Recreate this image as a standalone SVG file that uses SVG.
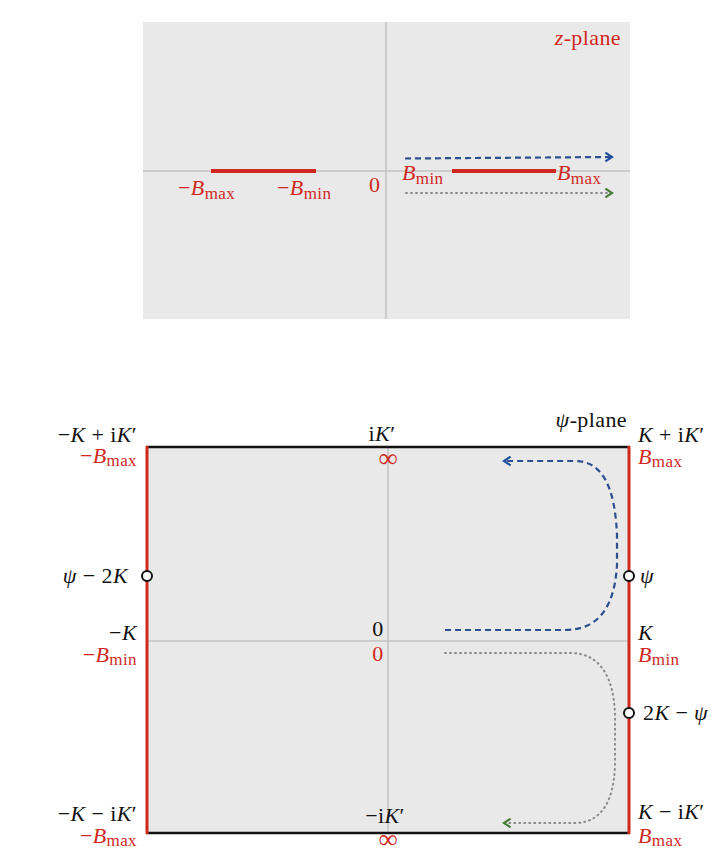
<svg xmlns="http://www.w3.org/2000/svg" width="727" height="854" viewBox="0 0 727 854">
<style>
text{font-family:"Liberation Serif","DejaVu Serif",serif;font-size:22px;letter-spacing:0.4px}
.r{fill:#d0281e}
.k{fill:#111}
.i{font-style:italic}
.sub{font-size:17px}
.inf{font-size:27px;letter-spacing:0}
.bg{fill:#e9e9e9}
.ax{stroke:#c2c2c2;stroke-width:1.5;fill:none}
.cut{stroke:#d0281e;stroke-width:4;fill:none}
.edge{stroke:#d0281e;stroke-width:3;fill:none}
.bk{stroke:#111;stroke-width:2.5;fill:none}
.blue{stroke:#2b4f8f;stroke-width:2.2;stroke-dasharray:6 4;fill:none}
.dot{stroke:#8a8a8a;stroke-width:2;stroke-dasharray:1 4;stroke-linecap:round;fill:none}
.pt{fill:#fff;stroke:#111;stroke-width:2}
</style>
<defs>
<marker id="ab" viewBox="0 0 10 10" refX="8" refY="5" markerWidth="11" markerHeight="11" markerUnits="userSpaceOnUse" orient="auto"><path d="M2,1 L8,5 L2,9" fill="none" stroke="#1f4f9a" stroke-width="2"/></marker>
<marker id="ag" viewBox="0 0 10 10" refX="8" refY="5" markerWidth="11" markerHeight="11" markerUnits="userSpaceOnUse" orient="auto"><path d="M2,1 L8,5 L2,9" fill="none" stroke="#4a7f3a" stroke-width="2"/></marker>
</defs>

<g id="z-plane">
<rect class="bg" x="143" y="22" width="487" height="297"/>
<line class="ax" x1="143" y1="171" x2="630" y2="171"/>
<line class="ax" x1="386" y1="22" x2="386" y2="319"/>
<line class="cut" x1="211" y1="171" x2="316" y2="171"/>
<line class="cut" x1="452" y1="171" x2="556" y2="171"/>
<text class="r" x="621" y="45" text-anchor="end"><tspan class="i">z</tspan>-plane</text>
<text class="r" x="178" y="195">−<tspan class="i">B</tspan><tspan class="sub" dy="4">max</tspan></text>
<text class="r" x="277" y="195">−<tspan class="i">B</tspan><tspan class="sub" dy="4">min</tspan></text>
<text class="r" x="369" y="192">0</text>
<text class="r" x="402" y="180"><tspan class="i">B</tspan><tspan class="sub" dy="4">min</tspan></text>
<text class="r" x="557" y="180"><tspan class="i">B</tspan><tspan class="sub" dy="4">max</tspan></text>
</g>

<g id="psi-plane">
<rect class="bg" x="147" y="447" width="482" height="386"/>
<line class="ax" x1="147" y1="641" x2="629" y2="641"/>
<line class="ax" x1="388" y1="447" x2="388" y2="833"/>
<line class="bk" x1="146" y1="447" x2="630" y2="447"/>
<line class="bk" x1="146" y1="833" x2="630" y2="833"/>
<line class="edge" x1="147" y1="446" x2="147" y2="834"/>
<line class="edge" x1="629" y1="446" x2="629" y2="834"/>
<text x="627" y="427" text-anchor="end" class="k"><tspan class="i">ψ</tspan>-plane</text>
</g>

<g id="corner-tl">
<text class="k" x="137" y="442" text-anchor="end">−<tspan class="i">K</tspan> + i<tspan class="i">K</tspan>′</text>
<text class="r" x="137" y="463" text-anchor="end">−<tspan class="i">B</tspan><tspan class="sub" dy="3">max</tspan></text>
</g>
<g id="corner-tr">
<text class="k" x="638" y="442"><tspan class="i">K</tspan> + i<tspan class="i">K</tspan>′</text>
<text class="r" x="638" y="464"><tspan class="i">B</tspan><tspan class="sub" dy="3">max</tspan></text>
</g>
<g id="mid-l">
<text class="k" x="137" y="640" text-anchor="end">−<tspan class="i">K</tspan></text>
<text class="r" x="137" y="662" text-anchor="end">−<tspan class="i">B</tspan><tspan class="sub" dy="3">min</tspan></text>
</g>
<g id="mid-r">
<text class="k" x="638" y="640"><tspan class="i">K</tspan></text>
<text class="r" x="638" y="662"><tspan class="i">B</tspan><tspan class="sub" dy="3">min</tspan></text>
</g>
<g id="corner-bl">
<text class="k" x="137" y="821" text-anchor="end">−<tspan class="i">K</tspan> − i<tspan class="i">K</tspan>′</text>
<text class="r" x="137" y="843" text-anchor="end">−<tspan class="i">B</tspan><tspan class="sub" dy="3">max</tspan></text>
</g>
<g id="corner-br">
<text class="k" x="638" y="819"><tspan class="i">K</tspan> − i<tspan class="i">K</tspan>′</text>
<text class="r" x="638" y="843"><tspan class="i">B</tspan><tspan class="sub" dy="3">max</tspan></text>
</g>
<g id="top-mid">
<text class="k" x="382" y="441" text-anchor="middle">i<tspan class="i">K</tspan>′</text>
<text class="r inf" x="388" y="467" text-anchor="middle">∞</text>
</g>
<g id="origin">
<text class="k" x="378" y="636" text-anchor="middle">0</text>
<text class="r" x="378" y="661" text-anchor="middle">0</text>
</g>
<g id="bottom-mid">
<text class="k" x="385" y="823" text-anchor="middle">−i<tspan class="i">K</tspan>′</text>
<text class="r inf" x="388" y="848" text-anchor="middle">∞</text>
</g>
<g id="pt-left">
<circle class="pt" cx="147" cy="576" r="5"/>
<text class="k" x="128" y="583" text-anchor="end"><tspan class="i">ψ</tspan> − 2<tspan class="i">K</tspan></text>
</g>
<g id="pt-right">
<circle class="pt" cx="629" cy="576" r="5"/>
<text class="k" x="640" y="583"><tspan class="i">ψ</tspan></text>
</g>
<g id="pt-right2">
<circle class="pt" cx="629" cy="713" r="5"/>
<text class="k" x="643" y="720">2<tspan class="i">K</tspan> − <tspan class="i">ψ</tspan></text>
</g>

<g id="connectors">
<path class="blue" d="M405,158.5 L612,157" marker-end="url(#ab)"/>
<path class="dot" d="M406,193 L612,193" marker-end="url(#ag)"/>
<path class="blue" d="M445,630 H565 C603,630 615,600 617,565 L617,535 C615,488 603,461 575,461 H504" marker-end="url(#ab)"/>
<path class="dot" d="M445,653 H570 C602,653 614,680 615,715 L615,765 C614,800 602,823 575,823 H504" marker-end="url(#ag)"/>
</g>
</svg>
